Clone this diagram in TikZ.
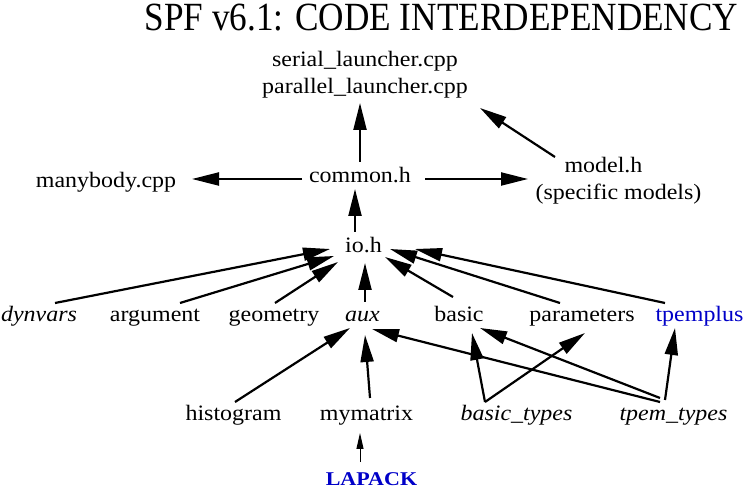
\documentclass[tikz,border=0pt]{standalone}
\usepackage{fontspec}
\setmainfont{Liberation Serif}
\usetikzlibrary{arrows.meta}
\definecolor{tpblue}{RGB}{0,0,200}
\begin{document}
\begin{tikzpicture}[x=1pt,y=1pt,
  lbl/.style={font=\fontsize{22}{22}\selectfont, anchor=base, inner sep=0pt, xscale=1.09, transform shape},
  ilbl/.style={lbl, font=\fontsize{22}{22}\selectfont\itshape},
  ttl/.style={font=\fontsize{40}{40}\selectfont, anchor=base, inner sep=0pt, xscale=0.88, transform shape},
  lap/.style={font=\fontsize{19.5}{19.5}\selectfont\bfseries, text=tpblue, anchor=base, inner sep=0pt, xscale=1.13, transform shape},
  dep/.style={line width=2.2pt, -{Triangle[length=27pt,width=13pt]}},
  thin/.style={line width=1pt, -{Triangle[length=16pt,width=7pt]}}]
\useasboundingbox (0,0) rectangle (748,488);

\node[ttl] (title) at (441.5,457) {SPF v6.1: CODE INTERDEPENDENCY};
\node[lbl] (serial) at (365,421) {serial\_launcher.cpp};
\node[lbl] (parallel) at (365,394) {parallel\_launcher.cpp};
\node[lbl] (manybody) at (106,300) {manybody.cpp};
\node[lbl] (common) at (360,305) {common.h};
\node[lbl] (model) at (603.5,315) {model.h};
\node[lbl] (specific) at (618.5,288) {(specific models)};
\node[lbl] (io) at (363.5,235) {io.h};

\node[ilbl] (dynvars) at (39,166) {dynvars};
\node[lbl] (argument) at (155,166) {argument};
\node[lbl] (geometry) at (274,166) {geometry};
\node[ilbl] (aux) at (362.5,166) {aux};
\node[lbl] (basic) at (459,166) {basic};
\node[lbl] (parameters) at (582,166) {parameters};
\node[lbl, text=tpblue] (tpemplus) at (699.5,166) {tpemplus};

\node[lbl] (histogram) at (233.5,67) {histogram};
\node[lbl] (mymatrix) at (366.5,67) {mymatrix};
\node[ilbl] (basictypes) at (516.5,67) {basic\_types};
\node[ilbl] (tpemtypes) at (673.5,67) {tpem\_types};
\node[lap] (lapack) at (371.5,3) {LAPACK};

% upper part
\draw[dep] ([shift={(0,21)}]common.base) -- ([shift={(-5,-9)}]parallel.base);
\draw[dep] ([shift={(-48.5,16)}]model.base) -- ([shift={(115,-14)}]parallel.base);
\draw[dep] ([shift={(-58,4)}]common.base) -- ([shift={(86,9)}]manybody.base);
\draw[dep] ([shift={(65,4)}]common.base) -- ([shift={(-75.5,-6)}]model.base);
\draw[dep] ([shift={(-8.5,21)}]io.base) -- ([shift={(-5,-6)}]common.base);

% into io.h
\draw[dep] ([shift={(16,19)}]dynvars.base) -- ([shift={(-33.5,4)}]io.base);
\draw[dep] ([shift={(25,19)}]argument.base) -- ([shift={(-29.5,-3)}]io.base);
\draw[dep] ([shift={(1,19)}]geometry.base) -- ([shift={(-25.5,-9)}]io.base);
\draw[dep] ([shift={(2.5,20)}]aux.base) -- ([shift={(1.5,-10)}]io.base);
\draw[dep] ([shift={(-6,25)}]basic.base) -- ([shift={(21.5,-4)}]io.base);
\draw[dep] ([shift={(-22,19)}]parameters.base) -- ([shift={(26.5,4)}]io.base);
\draw[dep] ([shift={(-34.5,19)}]tpemplus.base) -- ([shift={(51.5,4)}]io.base);

% lower part
\draw[dep] ([shift={(1.5,19)}]histogram.base) -- ([shift={(-12.5,-6)}]aux.base);
\draw[dep] ([shift={(3.5,23)}]mymatrix.base) -- ([shift={(2.5,-13)}]aux.base);
\draw[dep] ([shift={(-13.5,19)}]tpemtypes.base) -- ([shift={(9.5,-7)}]aux.base);
\draw[dep] ([shift={(-31.5,19)}]basictypes.base) -- ([shift={(13,-11)}]basic.base);
\draw[dep] ([shift={(-31.5,19)}]basictypes.base) -- ([shift={(3,-11)}]parameters.base);
\draw[dep] ([shift={(-13.5,23)}]tpemtypes.base) -- ([shift={(21,-6)}]basic.base);
\draw[dep] ([shift={(-8.5,21)}]tpemtypes.base) -- ([shift={(-24.5,-6)}]tpemplus.base);
\draw[thin] ([shift={(-11.5,23)}]lapack.base) -- ([shift={(-6.5,-12)}]mymatrix.base);
\end{tikzpicture}
\end{document}
